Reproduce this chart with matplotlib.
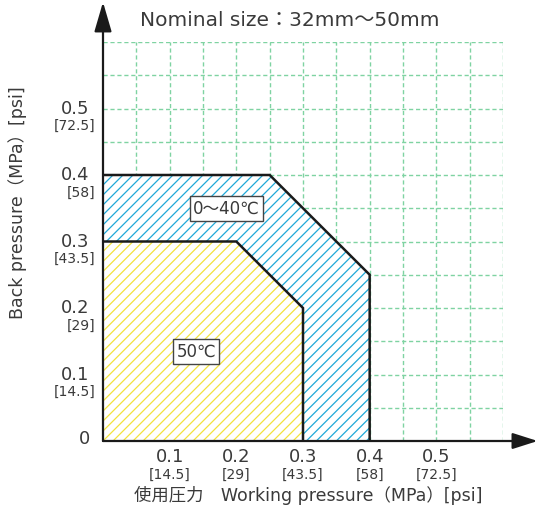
import matplotlib
matplotlib.use("Agg")
import matplotlib.pyplot as plt
from matplotlib.patches import Polygon
import numpy as np

plt.rcParams['font.family'] = ['DejaVu Sans', 'Noto Sans CJK JP']

# Operating ranges (MPa)
range_labels = ["0～40℃", "50℃"]
range_colors = ["#1fa9d8", "#f3e23c"]
max_working = [0.4, 0.3]      # right edge of the region
max_back = [0.4, 0.3]         # top edge of the region
knee = [0.25, 0.2]            # where the sloped edge begins
label_pos = [(0.185, 0.35), (0.14, 0.135)]

tick_mpa = [0.1, 0.2, 0.3, 0.4, 0.5]
tick_psi = ["14.5", "29", "43.5", "58", "72.5"]

txt = "#3a3a3a"
W, H = 538, 510
fig = plt.figure(figsize=(W / 100, H / 100), dpi=100)
x0, y0, x1, y1 = 103, 442, 503, 43
ax = fig.add_axes([x0 / W, (H - y0) / H, (x1 - x0) / W, (y0 - y1) / H])
ax.set_xlim(0, 0.6)
ax.set_ylim(0, 0.6)
for s in ax.spines.values():
    s.set_visible(False)
ax.set_xticks([])
ax.set_yticks([])

# grid
for v in np.arange(0.05, 0.6001, 0.05):
    ax.axvline(v, color="#7fd3a2", lw=1.0, ls=(0, (3, 2)), zorder=1)
    ax.axhline(v, color="#7fd3a2", lw=1.0, ls=(0, (3, 2)), zorder=1)

# diagonal hatching spacing (data units along x)
step = 0.015
for i, (mw, mb, k, col) in enumerate(zip(max_working, max_back, knee, range_colors)):
    verts = [(0, 0), (0, mb), (k, mb), (mw, k), (mw, 0)]
    base = Polygon(verts, closed=True, facecolor="white", edgecolor="none",
                   zorder=2 + 2 * i)
    ax.add_patch(base)
    for c in np.arange(-mb, mw + step, step):
        ln, = ax.plot([c, c + 1], [0, 1], color=col, lw=0.9, zorder=2 + 2 * i)
        ln.set_clip_path(base)
    ax.plot([0, k, mw, mw], [mb, mb, k, 0], color="#1a1a1a", lw=1.8,
            solid_joinstyle="miter", zorder=3 + 2 * i)
    ax.text(*label_pos[i], range_labels[i], fontsize=12, color=txt,
            ha="center", va="center", zorder=10,
            bbox=dict(boxstyle="square,pad=0.2", fc="white", ec="#444444", lw=1.0))

# axes with arrows
ax.annotate("", xy=(0.652, 0), xytext=(0, 0), annotation_clip=False,
            arrowprops=dict(arrowstyle="-|>,head_length=1.1,head_width=0.35",
                            color="#1a1a1a", lw=1.6, shrinkA=0, shrinkB=0,
                            mutation_scale=14), zorder=12)
ax.annotate("", xy=(0, 0.66), xytext=(0, 0), annotation_clip=False,
            arrowprops=dict(arrowstyle="-|>,head_length=1.3,head_width=0.38",
                            color="#1a1a1a", lw=1.6, shrinkA=0, shrinkB=0,
                            mutation_scale=14), zorder=12)

# tick labels
for v, p in zip(tick_mpa, tick_psi):
    ax.text(v, -0.023, f"{v:.1f}", fontsize=13, color=txt, ha="center", va="center")
    ax.text(v, -0.05, f"[{p}]", fontsize=10, color=txt, ha="center", va="center")
    ax.text(-0.02, v + 0.001, f"{v:.1f}", fontsize=13, color=txt, ha="right", va="center")
    ax.text(-0.011, v - 0.025, f"[{p}]", fontsize=10, color=txt, ha="right", va="center")
ax.text(-0.02, 0.004, "0", fontsize=13, color=txt, ha="right", va="center")

fig.text(308 / W, 1 - 495 / H, "使用圧力　Working pressure（MPa）[psi]", fontsize=12.5,
         color=txt, ha="center", va="center")
fig.text(18 / W, 1 - 203 / H, "Back pressure（MPa）[psi]", fontsize=12.5, color=txt,
         ha="center", va="center", rotation=90)
fig.text(290 / W, 1 - 20 / H, "Nominal size：32mm～50mm", fontsize=14.5, color=txt,
         ha="center", va="center")

fig.savefig("out.png", dpi=100)
